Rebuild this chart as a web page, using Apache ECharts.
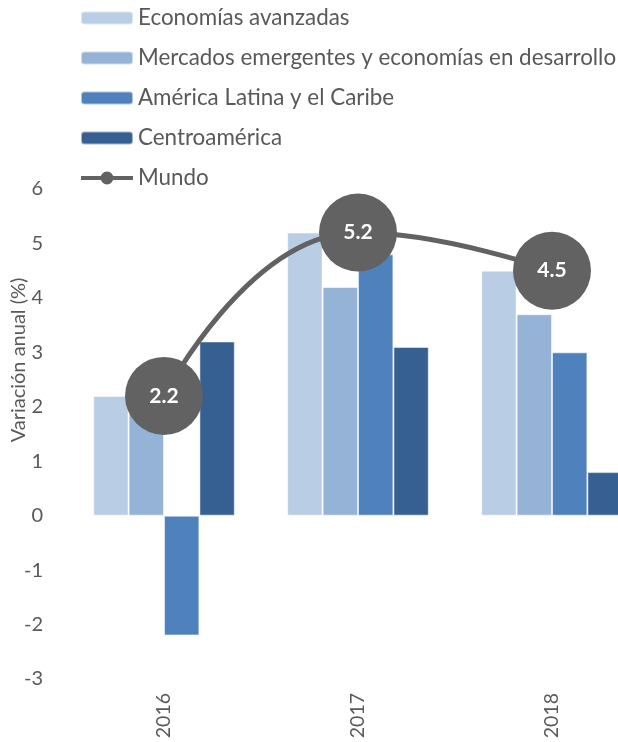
<!DOCTYPE html>
<html>
<head>
<meta charset="utf-8">
<script src="https://cdn.jsdelivr.net/npm/echarts@6/dist/echarts.min.js"></script>
<style>
  html, body { margin: 0; padding: 0; background: #ffffff; overflow: hidden; }
  #chart { width: 649px; height: 742px; }
</style>
</head>
<body>
<div id="chart"></div>
<script>
// Years on the category axis
const years = ['2016', '2017', '2018'];

// Annual variation (%) by group
const economiasAvanzadas = [2.2, 5.2, 4.5];
const mercadosEmergentes = [2.3, 4.2, 3.7];
const americaLatina = [-2.2, 4.8, 3.0];
const centroamerica = [3.2, 3.1, 0.8];
const mundo = [2.2, 5.2, 4.5];

// Value axis range and step
const yMin = -3;
const yMax = 6;
const yStep = 1;

const FONT = 'Lato';
const TEXT_COLOR = '#595959';
const LINE_COLOR = '#626262';

// Legend marker for the line series: a thick stroke with a dot in the middle
const LINE_MARKER = 'path://M0,4.5H52V8.5H0Z M32.5,6.5A6.5,6.5,0,1,1,19.5,6.5A6.5,6.5,0,1,1,32.5,6.5Z';

const chart = echarts.init(document.getElementById('chart'), null, { renderer: 'canvas' });

function barSeries(name, data, color) {
  return {
    name: name,
    type: 'bar',
    data: data,
    barGap: '0%',
    barCategoryGap: '27%',
    itemStyle: {
      color: color,
      borderColor: 'rgba(255,255,255,0.55)',
      borderWidth: 1
    },
    z: 2
  };
}

chart.setOption({
  animation: false,
  textStyle: { fontFamily: FONT },
  grid: { left: 67, right: 0, top: 189, bottom: 63, containLabel: false },
  legend: {
    orient: 'vertical',
    left: 80,
    top: 6,
    padding: 0,
    itemWidth: 52,
    itemHeight: 13,
    itemGap: 16,
    textStyle: { color: TEXT_COLOR, fontSize: 22.4, fontFamily: FONT, lineHeight: 24 },
    data: [
      'Economías avanzadas',
      'Mercados emergentes y economías en desarrollo',
      'América Latina y el Caribe',
      'Centroamérica',
      { name: 'Mundo', icon: LINE_MARKER, itemStyle: { color: LINE_COLOR } }
    ]
  },
  xAxis: {
    type: 'category',
    data: years,
    axisLine: { show: false, onZero: false },
    axisTick: { show: false },
    axisLabel: { rotate: 90, margin: 14, color: TEXT_COLOR, fontSize: 19.5, fontFamily: FONT }
  },
  yAxis: {
    type: 'value',
    min: yMin,
    max: yMax,
    interval: yStep,
    axisLine: { show: false },
    axisTick: { show: false },
    splitLine: { show: false },
    axisLabel: { margin: 24, color: TEXT_COLOR, fontSize: 20, fontFamily: FONT }
  },
  graphic: [{
    type: 'text',
    x: 19,
    y: 360,
    rotation: Math.PI / 2,
    style: {
      text: 'Variación anual (%)',
      fill: TEXT_COLOR,
      font: '20px ' + FONT,
      align: 'center',
      verticalAlign: 'middle'
    }
  }],
  series: [
    barSeries('Economías avanzadas', economiasAvanzadas, '#b9cde5'),
    barSeries('Mercados emergentes y economías en desarrollo', mercadosEmergentes, '#95b3d7'),
    barSeries('América Latina y el Caribe', americaLatina, '#4f81bd'),
    barSeries('Centroamérica', centroamerica, '#376092'),
    {
      name: 'Mundo',
      type: 'line',
      data: mundo,
      smooth: true,
      symbol: 'circle',
      symbolSize: 78,
      lineStyle: { color: LINE_COLOR, width: 5 },
      itemStyle: { color: LINE_COLOR },
      label: {
        show: true,
        position: 'inside',
        color: '#ffffff',
        fontWeight: 'bold',
        fontSize: 21,
        fontFamily: FONT,
        formatter: function (p) { return p.value.toFixed(1); }
      },
      z: 5
    }
  ]
});
</script>
</body>
</html>
